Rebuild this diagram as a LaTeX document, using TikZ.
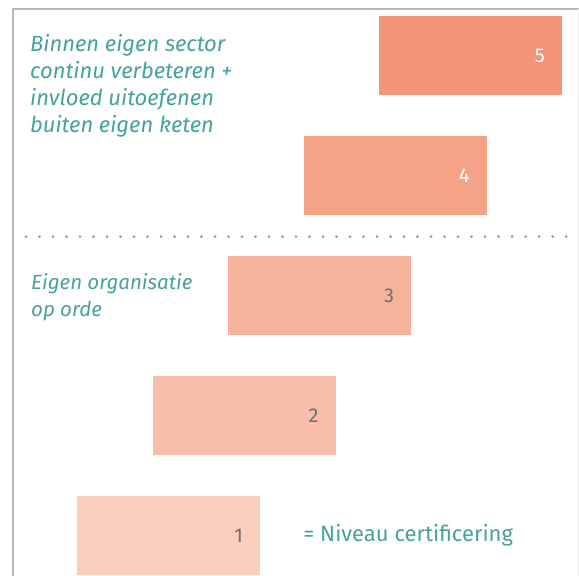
\documentclass[tikz,border=0pt]{standalone}
\usepackage{fontspec}
\setmainfont{Fira Sans}
\usetikzlibrary{positioning}
\definecolor{lvlone}{HTML}{F9CEBE}
\definecolor{lvltwo}{HTML}{F8BEAA}
\definecolor{lvlthree}{HTML}{F7B29C}
\definecolor{lvlfour}{HTML}{F5A387}
\definecolor{lvlfive}{HTML}{F4947A}
\definecolor{noteteal}{HTML}{45A39B}
\definecolor{numgray}{HTML}{6E6E6E}
\tikzset{level/.style={rectangle,minimum width=183pt,minimum height=79pt,inner sep=0pt}}
\tikzset{num/.style={inner sep=0pt,font=\fontsize{20}{22}\selectfont}}
\tikzset{note/.style={inner sep=0pt,anchor=north west,align=left,text=noteteal,font=\fontsize{22}{27}\selectfont\itshape}}

\begin{document}
\begin{tikzpicture}[x=1pt,y=-1pt]
    \useasboundingbox (0,0) rectangle (579,576);
    % frame
    \draw[gray!55,line width=2pt] (13,576) -- (13,9) -- (579,9);
    \draw[gray!15,line width=1pt] (578,9) -- (578,576);

    \node[level,fill=lvlone] (lvl1) at (168.5,535.5) {};
    \node[level,fill=lvltwo,xshift=75.5pt,yshift=120pt] (lvl2) at (lvl1) {};
    \node[level,fill=lvlthree,xshift=75.5pt,yshift=120pt] (lvl3) at (lvl2) {};
    \node[level,fill=lvlfour,xshift=75.5pt,yshift=120pt] (lvl4) at (lvl3) {};
    \node[level,fill=lvlfive,xshift=75.5pt,yshift=120pt] (lvl5) at (lvl4) {};

    \node[num,text=numgray,left=17pt of lvl1.east] (n1) {1};
    \node[num,text=numgray,left=17pt of lvl2.east] (n2) {2};
    \node[num,text=numgray,left=17pt of lvl3.east] (n3) {3};
    \node[num,text=white,left=17pt of lvl4.east] (n4) {4};
    \node[num,text=white,left=17pt of lvl5.east] (n5) {5};

    \node[note] (top) at (30,34) {Binnen eigen sector\\continu verbeteren +\\invloed uitoefenen\\buiten eigen keten};
    \node[note,font=\fontsize{20.5}{27}\selectfont\itshape] (own) at (31,273) {Eigen organisatie\\op orde};
    \node[note,font=\fontsize{22}{27}\selectfont,anchor=west,right=43pt of lvl1.east] (cert) {= Niveau certificering};

    % divider
    \draw[gray!80,line width=3pt,line cap=round,dash pattern=on 0pt off 13.5pt] (26,236.5) -- (567,236.5);
\end{tikzpicture}
\end{document}
